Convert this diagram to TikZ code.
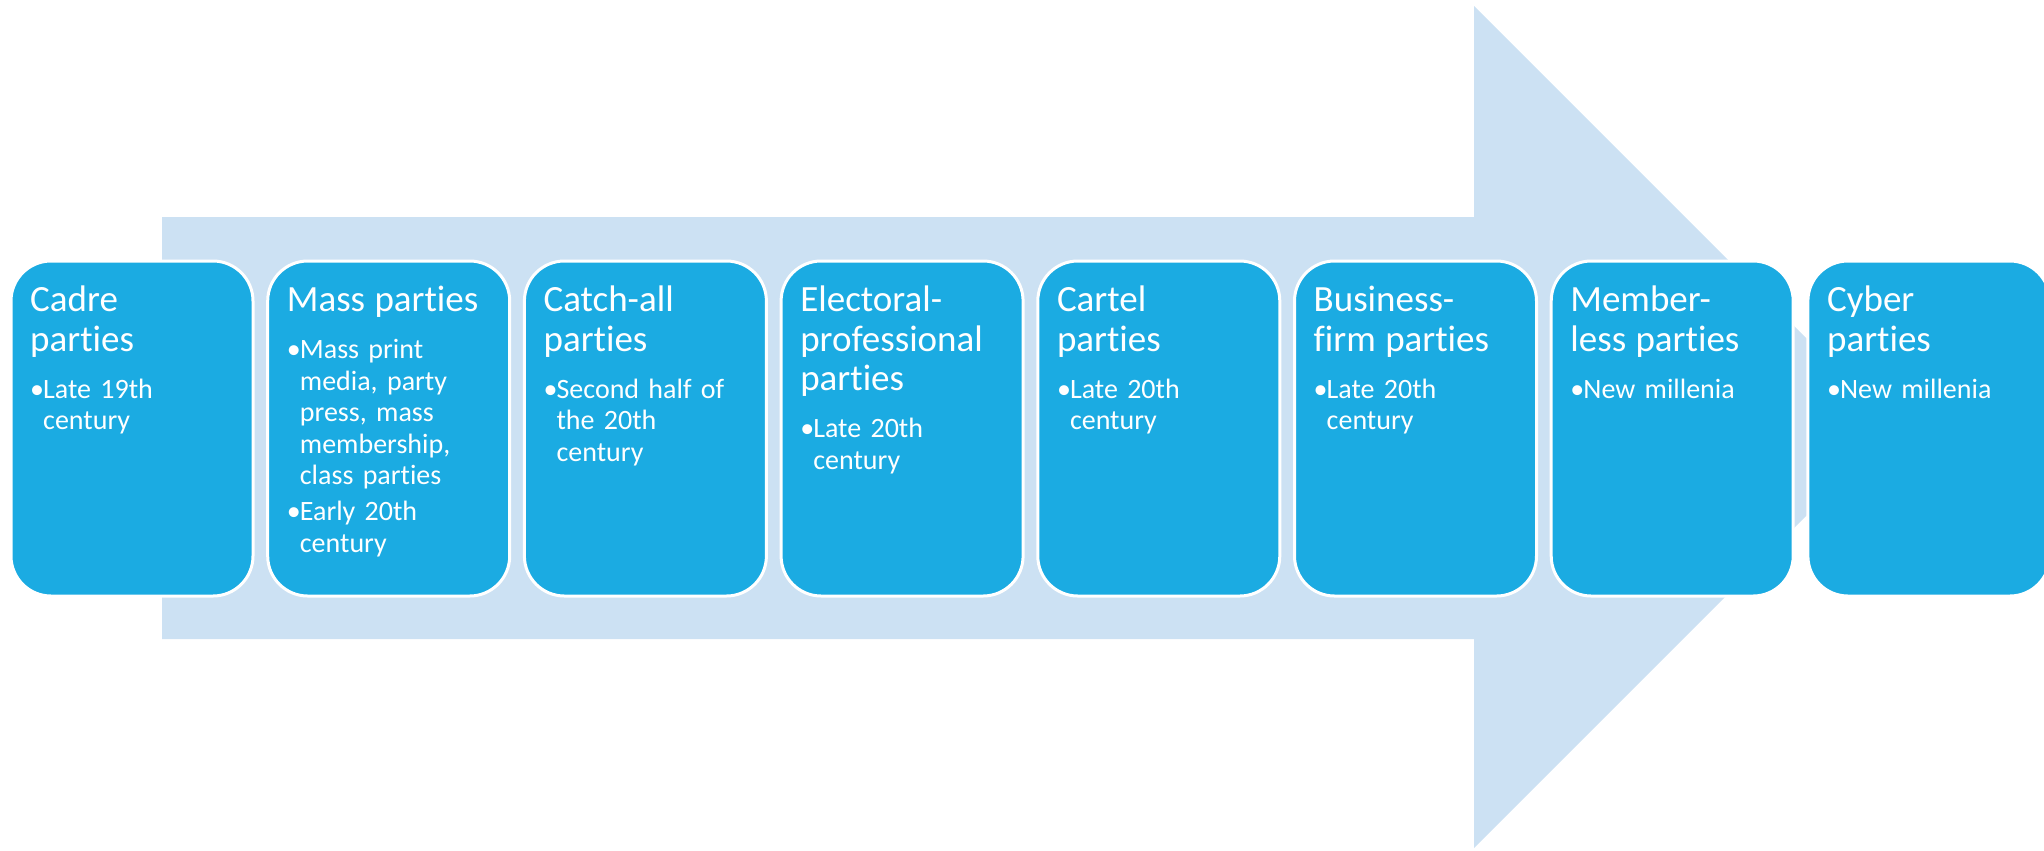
\documentclass[tikz,border=0pt]{standalone}
\usepackage{fontspec}
\setmainfont{Carlito}[RawFeature=-liga, RawFeature=-clig, RawFeature=-calt, RawFeature=-dlig]

\definecolor{partyblue}{RGB}{27,171,226}
\definecolor{arrowblue}{RGB}{204,225,243}

\newcommand\boxtitlefont{\fontsize{3.7mm}{3.95mm}\selectfont}
\newcommand\boxbulletfont{\fontsize{2.8mm}{3.15mm}\selectfont}
% titolo del riquadro, poi un po' di spazio prima dei punti
\newcommand\partytitle[1]{{\boxtitlefont #1\par}\vspace{1.07mm}}
% punto elenco con rientro sospeso
\newcommand\partybullet[1]{\par\vspace{0.48mm}\hangindent=1.3mm\hangafter=1\noindent\makebox[1.3mm][l]{•}#1\par}

\tikzset{
  partybox/.style={rectangle, rounded corners=4mm, fill=partyblue, draw=white,
    line width=0.3mm, minimum width=24.2mm, minimum height=33.5mm, inner sep=0pt},
  partytext/.style={anchor=base west, text width=21.5mm, align=left, inner sep=0pt,
    text=white, font=\boxbulletfont, xshift=2mm, yshift=-5.2mm}
}

\begin{document}
\begin{tikzpicture}[x=0.1mm, y=-0.1mm]
    \useasboundingbox (0,0) rectangle (2044,850);

    % Freccia di sfondo
    \fill[arrowblue] (162,217) -- (1474,217) -- (1474,6) -- (1895,427)
        -- (1474,848) -- (1474,639) -- (162,639) -- cycle;

    % Riquadri dei tipi di partito
    \foreach \i/\head/\notes in {
        0/{Cadre\newline parties}/{\partybullet{Late 19th\newline century}},
        1/{Mass parties}/{\partybullet{Mass print\newline media, party\newline press, mass\newline membership,\newline class parties}\partybullet{Early 20th\newline century}},
        2/{Catch-all\newline parties}/{\partybullet{Second half of\newline the 20th\newline century}},
        3/{Electoral-\newline professional\newline parties}/{\partybullet{Late 20th\newline century}},
        4/{Cartel\newline parties}/{\partybullet{Late 20th\newline century}},
        5/{Business-\newline firm parties}/{\partybullet{Late 20th\newline century}},
        6/{Member-\newline less parties}/{\partybullet{New millenia}},
        7/{Cyber\newline parties}/{\partybullet{New millenia}}}
    {
        \node[partybox] (box\i) at (132+256.7*\i, 428.5) {};
        \node[partytext] (text\i) at (box\i.north west) {\partytitle{\head}\notes};
    }
\end{tikzpicture}
\end{document}
